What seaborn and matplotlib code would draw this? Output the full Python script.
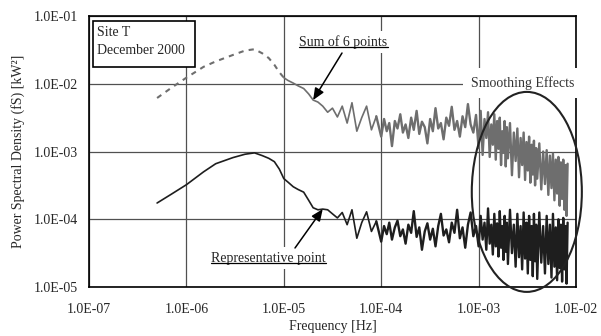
import numpy as np
import matplotlib
matplotlib.use("Agg")
import matplotlib.pyplot as plt
import seaborn as sns
from matplotlib.patches import Ellipse, Rectangle
from matplotlib.lines import Line2D
from matplotlib.ticker import FixedLocator, FuncFormatter, NullLocator

sns.set_style("white")
plt.rcParams["font.family"] = ["Liberation Serif", "DejaVu Serif"]

GREY = "#6e6e6e"
BLACK = "#1e1e1e"

# frequency bins [Hz]
freq_low = [5.0e-7, 7.0e-7, 1.0e-6, 1.5e-6, 2.0e-6, 3.0e-6, 4.0e-6, 5.0e-6,
            6.0e-6, 7.0e-6, 8.0e-6, 9.0e-6, 1.0e-5, 1.1e-5, 1.25e-5, 1.4e-5,
            1.6e-5, 1.8e-5, 2.0e-5, 2.24e-5, 2.51e-5, 2.82e-5, 3.16e-5, 3.55e-5,
            3.98e-5, 4.47e-5, 5.01e-5, 5.62e-5, 6.31e-5, 7.08e-5, 7.94e-5, 8.91e-5]
freq_mid = [1.00e-4, 1.07e-4, 1.14e-4, 1.21e-4, 1.29e-4, 1.38e-4, 1.47e-4, 1.57e-4,
            1.67e-4, 1.78e-4, 1.90e-4, 2.03e-4, 2.16e-4, 2.31e-4, 2.46e-4, 2.62e-4,
            2.80e-4, 2.98e-4, 3.18e-4, 3.39e-4, 3.61e-4, 3.85e-4, 4.10e-4, 4.37e-4,
            4.66e-4, 4.97e-4, 5.30e-4, 5.65e-4, 6.02e-4, 6.42e-4, 6.84e-4, 7.29e-4,
            7.77e-4, 8.28e-4, 8.83e-4, 9.41e-4]
freq_high = [1.00e-3, 1.05e-3, 1.10e-3, 1.15e-3, 1.20e-3, 1.25e-3, 1.30e-3, 1.35e-3,
             1.40e-3, 1.45e-3, 1.50e-3, 1.55e-3, 1.60e-3, 1.65e-3, 1.70e-3, 1.75e-3,
             1.80e-3, 1.85e-3, 1.90e-3, 1.95e-3, 2.0e-3, 2.1e-3, 2.2e-3, 2.3e-3,
             2.4e-3, 2.5e-3, 2.6e-3, 2.7e-3, 2.8e-3, 2.9e-3, 3.0e-3, 3.1e-3,
             3.2e-3, 3.3e-3, 3.4e-3, 3.5e-3, 3.6e-3, 3.7e-3, 3.8e-3, 3.9e-3,
             4.0e-3, 4.2e-3, 4.4e-3, 4.6e-3, 4.8e-3, 5.0e-3, 5.2e-3, 5.4e-3,
             5.6e-3, 5.8e-3, 6.0e-3, 6.2e-3, 6.4e-3, 6.6e-3, 6.8e-3, 7.0e-3,
             7.2e-3, 7.4e-3, 7.6e-3, 7.8e-3, 8.0e-3, 8.2e-3]

# PSD [kW^2], written as powers of ten
sum6_low_exp = [-2.21, -2.06, -1.91, -1.75, -1.67, -1.575, -1.51, -1.49,
                -1.55, -1.62, -1.72, -1.83, -1.91, -1.95, -1.99, -2.03,
                -2.07, -2.15, -2.24, -2.27, -2.33, -2.42, -2.36, -2.49,
                -2.33, -2.58, -2.28, -2.70, -2.50, -2.33, -2.68, -2.48]
sum6_mid_exp = [-2.78, -2.52, -2.70, -2.58, -2.92, -2.55, -2.66, -2.45,
                -2.72, -2.60, -2.80, -2.50, -2.68, -2.40, -2.74, -2.56,
                -2.64, -2.88, -2.52, -2.70, -2.36, -2.66, -2.58, -2.82,
                -2.50, -2.62, -2.34, -2.68, -2.55, -2.78, -2.48, -2.64,
                -2.30, -2.60, -2.72, -2.46]
sum6_high_exp = [-2.95, -2.40, -3.05, -2.52, -2.80, -2.42, -3.08, -2.60,
                 -2.90, -2.45, -3.12, -2.55, -2.96, -2.50, -3.20, -2.70,
                 -3.02, -2.55, -3.22, -2.64, -3.10, -2.58, -3.35, -2.72,
                 -3.14, -2.66, -3.38, -2.80, -3.20, -2.72, -3.42, -2.86,
                 -3.28, -2.78, -3.46, -2.90, -3.34, -2.84, -3.50, -2.95,
                 -3.40, -2.88, -3.56, -3.00, -3.48, -2.98, -3.64, -3.06,
                 -3.54, -3.03, -3.72, -3.12, -3.62, -3.08, -3.80, -3.16,
                 -3.70, -3.12, -3.86, -3.20, -3.95, -3.18]

rep_low_exp = [-3.76, -3.63, -3.49, -3.30, -3.18, -3.09, -3.04, -3.02,
               -3.06, -3.10, -3.15, -3.26, -3.40, -3.45, -3.52, -3.56,
               -3.60, -3.72, -3.83, -3.86, -3.85, -3.86, -3.92, -3.98,
               -3.90, -4.08, -3.86, -4.28, -4.05, -3.89, -4.18, -4.03]
rep_mid_exp = [-4.33, -4.10, -4.22, -4.05, -4.30, -4.12, -4.02, -4.25,
               -4.15, -4.36, -4.08, -4.20, -3.88, -4.26, -4.12, -4.45,
               -4.18, -4.06, -4.30, -4.14, -4.40, -4.10, -3.92, -4.24,
               -4.15, -4.34, -4.05, -4.20, -3.86, -4.28, -4.12, -4.42,
               -4.08, -3.90, -4.25, -4.10]
rep_high_exp = [-4.40, -3.95, -4.30, -4.05, -4.45, -3.84, -4.36, -4.08,
                -4.52, -3.92, -4.40, -4.06, -4.55, -3.88, -4.42, -4.10,
                -4.60, -3.95, -4.48, -4.05, -4.66, -3.86, -4.50, -4.08,
                -4.70, -3.92, -4.56, -4.10, -4.74, -3.90, -4.58, -4.05,
                -4.80, -3.95, -4.60, -4.10, -4.84, -3.92, -4.62, -4.08,
                -4.88, -3.90, -4.64, -4.10, -4.80, -3.95, -4.66, -4.08,
                -4.86, -3.92, -4.70, -4.12, -4.90, -4.00, -4.72, -4.08,
                -4.92, -3.98, -4.74, -4.10, -4.95, -4.05]

x_ticks = [1e-7, 1e-6, 1e-5, 1e-4, 1e-3, 1e-2]
y_ticks = [1e-5, 1e-4, 1e-3, 1e-2, 1e-1]

freq = np.array(freq_low + freq_mid + freq_high)
sum6 = 10.0 ** np.array(sum6_low_exp + sum6_mid_exp + sum6_high_exp)
rep = 10.0 ** np.array(rep_low_exp + rep_mid_exp + rep_high_exp)

fig = plt.figure(figsize=(6.01, 3.36), dpi=100)
ax = fig.add_axes([0.1481, 0.1458, 0.8103, 0.8065])
ax.set_xscale("log")
ax.set_yscale("log")

n_dash = 13           # sparse low-frequency bins of the summed spectrum: dashed
n_noise = len(freq_low)  # from 1e-4 Hz the spectra turn into dense noise

def draw(lo, hi, y, color, lw, **kw):
    sns.lineplot(x=freq[lo:hi], y=y[lo:hi], ax=ax, color=color, lw=lw,
                 sort=False, estimator=None, **kw)

draw(0, n_dash, sum6, GREY, 1.5, linestyle=(0, (2.5, 2.5)))
draw(n_dash - 1, n_noise, sum6, GREY, 1.2)
draw(n_noise - 1, None, sum6, GREY, 1.7)
draw(0, n_noise, rep, BLACK, 1.2)
draw(n_noise - 1, None, rep, BLACK, 1.7)

ax.set_xlim(1e-7, 1e-2)
ax.set_ylim(1e-5, 1e-1)
ax.xaxis.set_major_locator(FixedLocator(x_ticks))
ax.yaxis.set_major_locator(FixedLocator(y_ticks))
ax.xaxis.set_minor_locator(NullLocator())
ax.yaxis.set_minor_locator(NullLocator())
sci = FuncFormatter(lambda v, p: f"{v:.1E}")
ax.xaxis.set_major_formatter(sci)
ax.yaxis.set_major_formatter(sci)
ax.tick_params(axis="x", length=0, labelsize=10, pad=11.5)
ax.tick_params(axis="y", length=0, labelsize=10, pad=8)
ax.grid(True, color="#505050", lw=0.9)
ax.set_axisbelow(True)
for s in ax.spines.values():
    s.set_color("black")
    s.set_linewidth(1.2)

ax.set_xlabel("Frequency [Hz]", fontsize=10, labelpad=3)
ax.set_ylabel("Power Spectral Density (fS) [kW²]", fontsize=10, labelpad=6)

# site box
ax.add_patch(Rectangle((0.0082, 0.8118), 0.2094, 0.1697, transform=ax.transAxes,
                       fc="white", ec="black", lw=1.2, zorder=4))
ax.text(0.016, 0.941, "Site T", transform=ax.transAxes, ha="left", va="center",
        fontsize=10, zorder=5)
ax.text(0.016, 0.8745, "December 2000", transform=ax.transAxes, ha="left",
        va="center", fontsize=10, zorder=5)

t_sum = ax.text(0.5226, 0.904, "Sum of 6 points", transform=ax.transAxes,
                ha="center", va="center", fontsize=10, zorder=4,
                bbox=dict(fc="white", ec="none", boxstyle="square,pad=0.3"))
t_rep = ax.text(0.3686, 0.107, "Representative point", transform=ax.transAxes,
                ha="center", va="center", fontsize=10, zorder=4,
                bbox=dict(fc="white", ec="none", boxstyle="square,pad=0.3"))
ax.text(0.891, 0.753, "Smoothing Effects", transform=ax.transAxes, ha="center",
        va="center", fontsize=10, color="#333333", zorder=6, clip_on=False,
        bbox=dict(fc="white", ec="none", boxstyle="square,pad=0.6"))

arrow = dict(arrowstyle="-|>,head_length=0.7,head_width=0.3", color="black",
             lw=1.1, shrinkA=0, shrinkB=0, mutation_scale=10)
ax.annotate("", xy=(freq[18], sum6[18]), xytext=(0.5195, 0.8635),
            textcoords="axes fraction", arrowprops=arrow, zorder=5)
ax.annotate("", xy=(freq[20], rep[20]), xytext=(0.423, 0.144),
            textcoords="axes fraction", arrowprops=arrow, zorder=5)

ax.add_patch(Ellipse((0.899, 0.351), 0.226, 0.738, transform=ax.transAxes,
                     fill=False, ec="#222222", lw=1.5, clip_on=False, zorder=6))

# underline the two curve labels
fig.canvas.draw()
renderer = fig.canvas.get_renderer()
for t in (t_sum, t_rep):
    bb = t.get_window_extent(renderer)
    yy = bb.y0 + 1.5
    (x0, y0), (x1, y1) = fig.transFigure.inverted().transform([(bb.x0, yy), (bb.x1, yy)])
    fig.add_artist(Line2D([x0, x1], [y0, y1], transform=fig.transFigure,
                          color="black", lw=0.9, zorder=7))

fig.savefig("out.png", dpi=100)
